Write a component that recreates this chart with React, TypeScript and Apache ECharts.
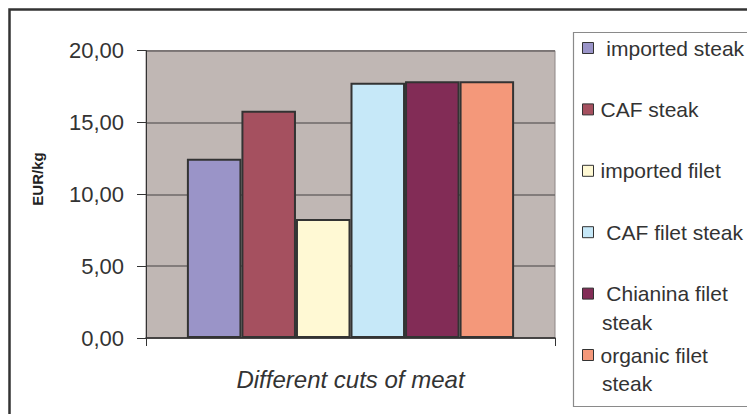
import React, { useEffect, useRef } from 'react';
import * as echarts from 'echarts';

const categories = ['Different cuts of meat'];
const seriesNames = [' imported steak', 'CAF steak', 'imported filet', ' CAF filet steak', ' Chianina filet steak', 'organic filet steak'];
const legendFirstLines = [' imported steak', 'CAF steak', 'imported filet', ' CAF filet steak', ' Chianina filet', 'organic filet'];
const legendSecondLines = ['', '', '', '', 'steak', 'steak'];
const values = [12.48, 15.82, 8.28, 17.77, 17.88, 17.88];
const colors = ['#9A94C8', '#A5505F', '#FFF9D4', '#C6E8F8', '#822C56', '#F4987A'];
const yMin = 0;
const yMax = 20;
const yInterval = 5;
const xAxisTitle = 'Different cuts of meat';
const yAxisTitle = 'EUR/kg';

const FONT = "'Liberation Sans', Arial, sans-serif";
const LEGEND_FIRST_CENTER = 48;
const LEGEND_STEP = 61.4;
const LEGEND_LINE = 28.4;
const LEGEND_LH = 22;

export default function App() {
  const ref = useRef<HTMLDivElement>(null);
  useEffect(() => {
    if (!ref.current) return;
    const chart = echarts.init(ref.current, null, { renderer: 'svg' });
    const nameToFirst: Record<string, string> = {};
    seriesNames.forEach((n, i) => (nameToFirst[n] = legendFirstLines[i]));
    const secondLineGraphics = legendSecondLines
      .map((t, i) => ({ t, i }))
      .filter((d) => d.t)
      .map((d) => ({
        type: 'text',
        x: 602,
        y: LEGEND_FIRST_CENTER + d.i * LEGEND_STEP + LEGEND_LINE,
        z: 10,
        style: {
          text: d.t,
          fill: '#333',
          font: `21px ${FONT}`,
          verticalAlign: 'middle',
          align: 'left',
        },
      }));
    chart.setOption({
      animation: false,
      textStyle: { fontFamily: FONT },
      grid: {
        left: 146,
        right: 192,
        top: 50.7,
        bottom: 76,
        show: true,
        backgroundColor: '#C0B7B4',
        borderColor: '#8E8686',
        borderWidth: 1,
      },
      legend: {
        orient: 'vertical',
        left: 582,
        top: LEGEND_FIRST_CENTER - LEGEND_LH / 2,
        padding: 0,
        itemWidth: 11,
        itemHeight: 11,
        itemGap: LEGEND_STEP - LEGEND_LH,
        icon: 'rect',
        data: seriesNames,
        formatter: (n: string) => nameToFirst[n] ?? n,
        itemStyle: { borderColor: '#333', borderWidth: 1 },
        textStyle: { fontSize: 21, color: '#333', lineHeight: LEGEND_LH, padding: [0, 0, 0, 2], fontFamily: FONT },
      },
      xAxis: {
        type: 'category',
        data: categories,
        name: xAxisTitle,
        nameLocation: 'middle',
        nameGap: 29,
        nameTextStyle: { fontSize: 24, fontStyle: 'italic', color: '#333', fontFamily: FONT },
        axisLine: { show: true, lineStyle: { color: '#333', width: 1.5 } },
        axisTick: { show: true, length: 8, lineStyle: { color: '#333' } },
        axisLabel: { show: false },
      },
      yAxis: {
        type: 'value',
        min: yMin,
        max: yMax,
        interval: yInterval,
        axisLine: { show: true, lineStyle: { color: '#333', width: 1 } },
        axisTick: { show: true, length: 9, lineStyle: { color: '#333' } },
        axisLabel: {
          margin: 22,
          fontSize: 22,
          color: '#333',
          fontFamily: FONT,
          formatter: (v: number) => v.toFixed(2).replace('.', ','),
        },
        splitLine: { show: true, lineStyle: { color: '#6E6868', width: 1.5 } },
      },
      series: seriesNames.map((n, i) => ({
        type: 'bar',
        name: n,
        data: [values[i]],
        barGap: '0%',
        barCategoryGap: '20%',
        itemStyle: { color: colors[i], borderColor: '#333', borderWidth: 2 },
      })),
      graphic: [
        {
          type: 'rect',
          z: -10,
          shape: { x: 9.5, y: 9.5, width: 900, height: 600 },
          style: { fill: 'none', stroke: '#333', lineWidth: 2.5 },
        },
        {
          type: 'rect',
          z: -5,
          shape: { x: 573.5, y: 32.5, width: 300, height: 374 },
          style: { fill: '#fff', stroke: '#8A8A8A', lineWidth: 1.2 },
        },
        {
          type: 'text',
          x: 37,
          y: 179,
          rotation: Math.PI / 2,
          style: {
            text: yAxisTitle,
            fill: '#222',
            font: `bold 15px ${FONT}`,
            align: 'center',
            verticalAlign: 'middle',
          },
        },
        ...secondLineGraphics,
      ],
    });
    return () => chart.dispose();
  }, []);
  return <div ref={ref} style={{ position: 'absolute', left: 0, top: 0, width: 747, height: 414 }} />;
}
